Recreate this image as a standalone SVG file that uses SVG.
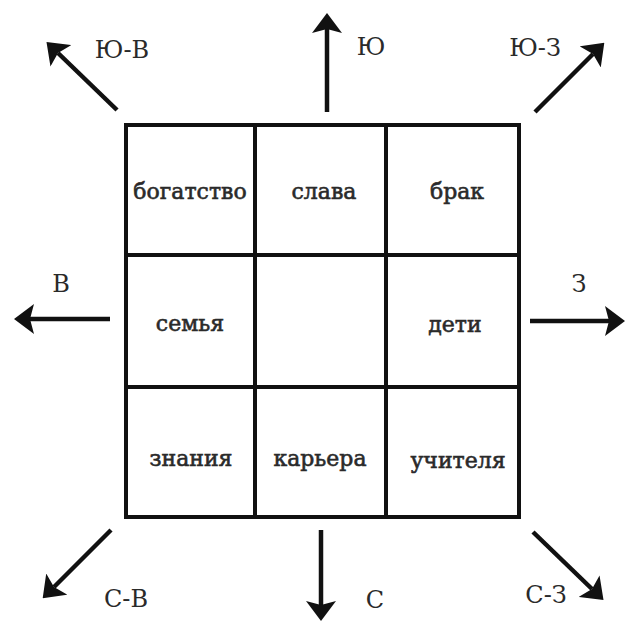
<svg xmlns="http://www.w3.org/2000/svg" width="626" height="623" viewBox="0 0 626 623">
<defs>
<marker id="ah" viewBox="0 0 20 30" refX="4" refY="15" markerWidth="20" markerHeight="30" markerUnits="userSpaceOnUse" orient="auto">
<path d="M0,0 L20,15 L0,30 L4,15 Z" fill="#111"/>
</marker>
<style>
.cell{fill:#fff;stroke:#111;stroke-width:4}
.lbl{font-family:"DejaVu Serif","Liberation Serif",serif;font-size:22px;fill:#2a2a2a;stroke:#2a2a2a;stroke-width:0.6;text-anchor:middle}
.dir{font-family:"DejaVu Serif","Liberation Serif",serif;font-size:24px;fill:#2a2a2a;text-anchor:middle}
.arr{stroke:#111;stroke-width:4.5;fill:none;marker-end:url(#ah)}
</style>
</defs>
<rect width="626" height="623" fill="#fff"/>
<g id="grid">
<g id="c-wealth"><rect class="cell" x="126" y="125" width="129" height="130"/><text class="lbl" x="190" y="199">богатство</text></g>
<g id="c-fame"><rect class="cell" x="255" y="125" width="131" height="130"/><text class="lbl" x="324" y="199">слава</text></g>
<g id="c-marriage"><rect class="cell" x="386" y="125" width="133" height="130"/><text class="lbl" x="457" y="199">брак</text></g>
<g id="c-family"><rect class="cell" x="126" y="255" width="129" height="132"/><text class="lbl" x="190" y="331">семья</text></g>
<g id="c-center"><rect class="cell" x="255" y="255" width="131" height="132"/></g>
<g id="c-children"><rect class="cell" x="386" y="255" width="133" height="132"/><text class="lbl" x="455" y="332">дети</text></g>
<g id="c-knowledge"><rect class="cell" x="126" y="387" width="129" height="130"/><text class="lbl" x="191" y="466">знания</text></g>
<g id="c-career"><rect class="cell" x="255" y="387" width="131" height="130"/><text class="lbl" x="320" y="466">карьера</text></g>
<g id="c-teachers"><rect class="cell" x="386" y="387" width="133" height="130"/><text class="lbl" x="458" y="468">учителя</text></g>
</g>
<g id="connectors">
<line class="arr" x1="327" y1="112" x2="327" y2="29"/>
<line class="arr" x1="117" y1="110" x2="58" y2="53"/>
<line class="arr" x1="535" y1="112" x2="593" y2="54"/>
<line class="arr" x1="110" y1="319" x2="30" y2="319"/>
<line class="arr" x1="530" y1="321" x2="609" y2="321"/>
<line class="arr" x1="111" y1="530" x2="54" y2="587"/>
<line class="arr" x1="321" y1="530" x2="321" y2="605"/>
<line class="arr" x1="533" y1="532" x2="592" y2="589"/>
</g>
<g id="labels">
<text class="dir" x="122" y="58">Ю-В</text>
<text class="dir" x="371" y="55">Ю</text>
<text class="dir" x="535" y="56">Ю-З</text>
<text class="dir" x="61" y="292">В</text>
<text class="dir" x="579" y="292">З</text>
<text class="dir" x="126" y="607">С-В</text>
<text class="dir" x="375" y="608">С</text>
<text class="dir" x="546" y="603">С-З</text>
</g>
</svg>
